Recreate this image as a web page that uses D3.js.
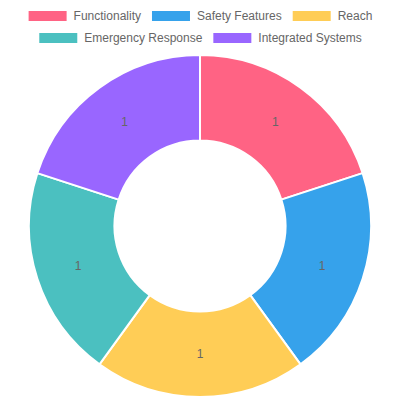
<!DOCTYPE html>
<html>
<head>
<meta charset="utf-8">
<script src="https://cdn.jsdelivr.net/npm/d3@7"></script>
<style>
  body { margin: 0; background: #fff; }
  svg { display: block; }
  text { font-family: "Liberation Sans", Arial, Helvetica, sans-serif; }
</style>
</head>
<body>
<div class="canvas"></div>
<script>
const svgWidth = 400;
const svgHeight = 400;

// data
const categories = ['Functionality', 'Safety Features', 'Reach', 'Emergency Response', 'Integrated Systems'];
const values = [1, 1, 1, 1, 1];
const colors = ['#ff6384', '#36a2eb', '#ffcd56', '#4bc0c0', '#9966ff'];

const svg = d3.select('.canvas')
    .append('svg')
    .attr('width', svgWidth)
    .attr('height', svgHeight);

//legend rows, laid out like chart.js does it
const legendRows = [[0, 1, 2], [3, 4]];
const boxW = 40, boxH = 12, fontSize = 12, pad = 10;

const legend = svg.append('g');
legendRows.forEach((row, ri) => {
    const top = 10 + ri * (fontSize + pad);
    const rowG = legend.append('g');
    let x = 0;
    row.forEach(i => {
        const item = rowG.append('g').attr('transform', `translate(${x}, ${top})`);
        item.append('rect')
            .attr('width', boxW)
            .attr('height', boxH)
            .attr('fill', colors[i])
            .attr('stroke', '#fff')
            .attr('stroke-width', 2);
        const t = item.append('text')
            .attr('x', boxW + fontSize / 2)
            .attr('y', boxH / 2)
            .attr('dy', '0.35em')
            .attr('fill', '#666')
            .style('font-size', fontSize + 'px')
            .text(categories[i]);
        const w = boxW + fontSize / 2 + t.node().getComputedTextLength();
        x += w + pad;
    });
    const rowWidth = x - pad;
    rowG.attr('transform', `translate(${(svgWidth - rowWidth) / 2}, 0)`);
});

// doughnut
const cx = 200, cy = 226;
const outerR = 171;
const innerR = outerR * 0.5;

const graph = svg.append('g')
    .attr('transform', `translate(${cx}, ${cy})`);

const pie = d3.pie().sort(null).value(d => d);
const arc = d3.arc().innerRadius(innerR).outerRadius(outerR);
const arcs = pie(values);

graph.selectAll('path')
    .data(arcs)
    .enter()
    .append('path')
        .attr('d', arc)
        .attr('fill', (d, i) => colors[i])
        .attr('stroke', '#fff')
        .attr('stroke-width', 2)
        .attr('stroke-linejoin', 'round');

const labelArc = d3.arc().innerRadius((innerR + outerR) / 2).outerRadius((innerR + outerR) / 2);
graph.selectAll('text.val')
    .data(arcs)
    .enter()
    .append('text')
        .attr('class', 'val')
        .attr('transform', d => `translate(${labelArc.centroid(d)})`)
        .attr('text-anchor', 'middle')
        .attr('dy', '0.35em')
        .attr('fill', '#666')
        .style('font-size', '12px')
        .text(d => d.data);
</script>
</body>
</html>
